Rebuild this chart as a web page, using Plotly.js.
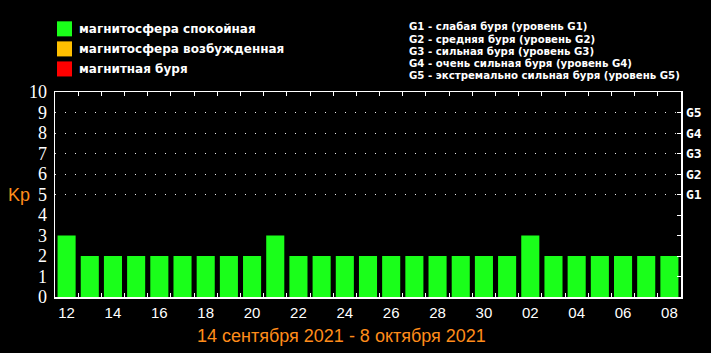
<!DOCTYPE html>
<html><head><meta charset="utf-8">
<script src="https://cdn.plot.ly/plotly-3.0.1.min.js"></script>
<style>html,body{margin:0;padding:0;background:#000;}</style>
</head><body><div id="chart" style="width:711px;height:353px;"></div>
<script>
const days = ['12','13','14','15','16','17','18','19','20','21','22','23','24','25','26','27','28','29','30','01','02','03','04','05','06','07','08'];
const kp = [3,2,2,2,2,2,2,2,2,3,2,2,2,2,2,2,2,2,2,2,3,2,2,2,2,2,2];
const yTicks = [0,1,2,3,4,5,6,7,8,9,10];
const gLevels = [5,6,7,8,9];
const gLabels = ['G1','G2','G3','G4','G5'];
const legendItems = ['магнитосфера спокойная','магнитосфера возбужденная','магнитная буря'];
const legendColors = ['#1aff1a','#ffbf00','#ff0000'];
const gText = ['G1 - слабая буря (уровень G1)','G2 - средняя буря (уровень G2)','G3 - сильная буря (уровень G3)','G4 - очень сильная буря (уровень G4)','G5 - экстремально сильная буря (уровень G5)'];
const dateRange = '14 сентября 2021 - 8 октября 2021';

const idx = days.map((d,i)=>i);
const labelIdx = idx.filter(i=>i%2===0);
const bounds = idx.slice(1).map(i=>i-0.5);
const rightText = yTicks.map(v=>{const k=gLevels.indexOf(v); return k>=0?gLabels[k]:'';});

const traces = [
  {type:'bar', x: idx, y: kp, marker:{color:'#1aff1a', line:{width:0}}, width:0.78, xaxis:'x', yaxis:'y', hoverinfo:'skip'},
  {type:'scatter', x:[0], y:[0], mode:'markers', marker:{opacity:0}, xaxis:'x2', yaxis:'y2', hoverinfo:'skip', showlegend:false},
  {type:'scatter', x:[0], y:[0], mode:'markers', marker:{opacity:0}, xaxis:'x', yaxis:'y3', hoverinfo:'skip', showlegend:false}
];
const P = v => (297 - v) / 204.5;   // pixel y -> paper y
const Q = v => (v - 55) / 626;      // pixel x -> paper x
const annotations = [];
legendItems.forEach((t,i)=>{
  annotations.push({xref:'paper', yref:'paper', x:Q(77), y:P(29.5+i*20), xanchor:'left', yanchor:'middle', showarrow:false,
    text:t, font:{family:'DejaVu Sans', size:12, color:'#ffffff', weight:'bold'}});
});
gText.forEach((t,i)=>{
  annotations.push({xref:'paper', yref:'paper', x:Q(407), y:P(27.5+i*12.2), xanchor:'left', yanchor:'middle', showarrow:false,
    text:t, font:{family:'DejaVu Sans', size:10.2, color:'#ffffff', weight:'bold'}});
});
annotations.push({xref:'paper', yref:'paper', x:Q(341), y:P(336), xanchor:'center', yanchor:'middle', showarrow:false,
  text:dateRange, font:{family:'Liberation Sans', size:18, color:'#ff8c1a'}});
annotations.push({xref:'paper', yref:'paper', x:Q(19), y:P(195), xanchor:'center', yanchor:'middle', showarrow:false,
  text:'Kp', font:{family:'Liberation Sans', size:18, color:'#ff8c1a'}});

const shapes = legendColors.map((c,i)=>({type:'rect', xref:'paper', yref:'paper', layer:'above',
  x0:Q(57), x1:Q(72), y0:P(37+i*20), y1:P(22+i*20), fillcolor:c, line:{width:0}}));

const layout = {
  width:711, height:353,
  paper_bgcolor:'#000', plot_bgcolor:'#000',
  margin:{l:55, r:30, t:92, b:56, pad:0},
  showlegend:false,
  xaxis:{range:[-0.5,26.5], tickvals:bounds, showticklabels:false, ticks:'inside', ticklen:4, tickcolor:'#fff', tickwidth:1,
    showline:true, linecolor:'#fff', linewidth:1.5, mirror:'ticks', showgrid:false, zeroline:false, fixedrange:true},
  xaxis2:{overlaying:'x', side:'bottom', range:[-0.5,26.5], tickvals:labelIdx, ticktext:labelIdx.map(i=>days[i]), ticks:'',
    showline:false, showgrid:false, zeroline:false, tickfont:{family:'Liberation Sans', size:15, color:'#fff'}, ticklabelstandoff:5},
  yaxis:{range:[0,10], tickvals:yTicks, ticks:'', showline:true, linecolor:'#fff', linewidth:1.5,
    mirror:true, showgrid:false, zeroline:false, tickfont:{family:'Liberation Serif', size:18, color:'#fff'}, ticklabelstandoff:3},
  yaxis2:{overlaying:'y', side:'right', range:[0,10], tickvals:yTicks, ticktext:rightText, ticks:'inside', ticklen:4, tickcolor:'#fff',
    showline:false, showgrid:false, zeroline:false,
    tickfont:{family:'DejaVu Sans Mono', size:13, color:'#fff', weight:'bold'}, ticklabelstandoff:4},
  yaxis3:{overlaying:'y', side:'left', range:[0,10], tickvals:gLevels, showticklabels:false, ticks:'',
    showgrid:true, gridcolor:'#e8e8e8', griddash:'1px,9px', gridwidth:1, zeroline:false, showline:false},
  annotations: annotations,
  shapes: shapes
};
Plotly.newPlot('chart', traces, layout, {staticPlot:true, displayModeBar:false});
</script></body></html>
